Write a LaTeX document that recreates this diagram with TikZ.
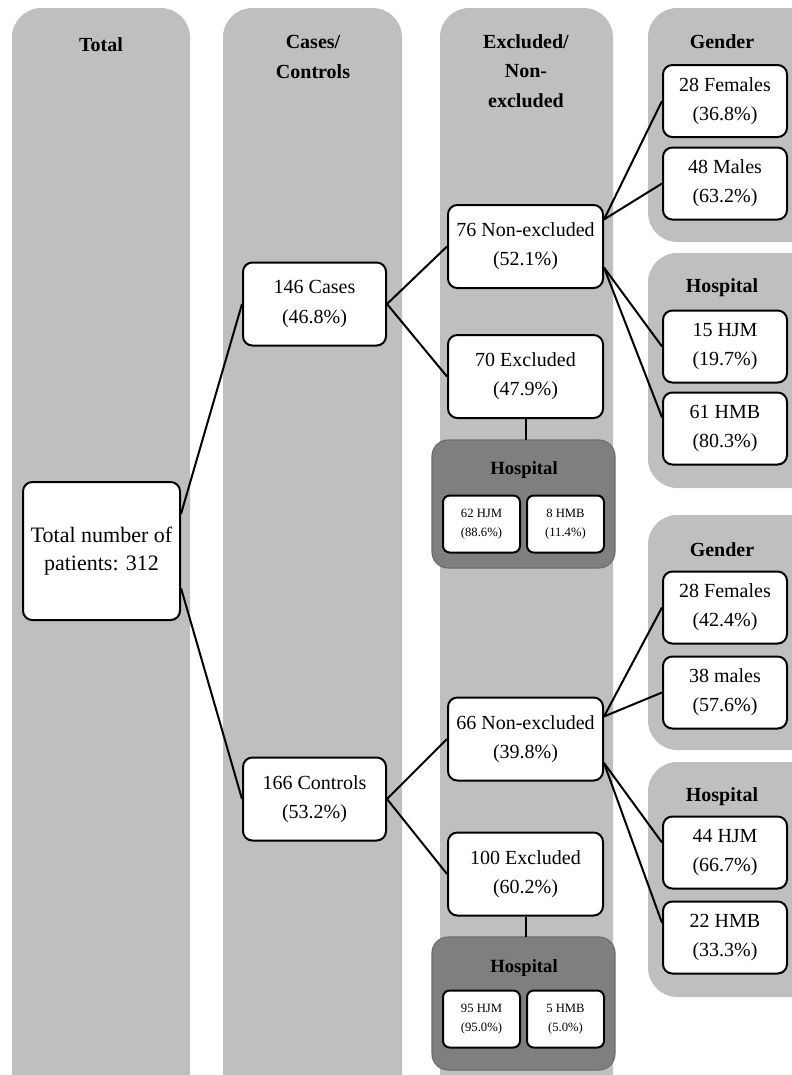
\documentclass[tikz,border=0pt]{standalone}
\usepackage{fontspec}
\setmainfont{Liberation Serif}
\usetikzlibrary{positioning}
\definecolor{colgrey}{HTML}{BFBFBF}
\definecolor{darkgrey}{HTML}{7F7F7F}
\tikzset{
    flowchart/.style={x=0.75pt, y=-0.75pt, line width=1.5pt, font=\fontsize{15}{22}\selectfont},
    column/.style={fill=colgrey, rounded corners=22pt},
    hosppanel/.style={fill=darkgrey, draw=darkgrey!85!black, line width=0.8pt, rounded corners=12pt},
    heading/.style={font=\bfseries\fontsize{15}{22}\selectfont, align=center},
    subheading/.style={font=\bfseries\fontsize{14}{16}\selectfont},
    box/.style={draw, fill=white, rounded corners=7pt, align=center, inner sep=2pt},
    bigbox/.style={box, minimum width=117.75pt, minimum height=103.5pt, font=\fontsize{16.5}{21}\selectfont},
    midbox/.style={box, minimum width=107.25pt, minimum height=62.25pt},
    exbox/.style={box, minimum width=116.25pt, minimum height=62.25pt},
    sidebox/.style={box, minimum width=93pt, minimum height=54pt},
    % tiny boxes inside the dark hospital panels
    tinybox/.style={box, rounded corners=5pt, minimum width=57.75pt, minimum height=42.75pt,
        font=\fontsize{9.5}{14.5}\selectfont},
}
\begin{document}
\begin{tikzpicture}[flowchart]
    \useasboundingbox (0,0) rectangle (792,1075);
    \clip (0,0) rectangle (792,1075);

    % grey columns
    \fill[column] (12,8)  rectangle (190,1110);
    \fill[column] (223,8) rectangle (402,1110);
    \fill[column] (440,8) rectangle (613,1110);
    \fill[column] (648,8)   rectangle (830,242);
    \fill[column] (648,253) rectangle (830,488);
    \fill[column] (648,515) rectangle (830,750);
    \fill[column] (648,762) rectangle (830,997);

    \node[heading] (hTotal) at (101,45)  {Total};
    \node[heading] (hCase)  at (313,57)  {Cases/\\Controls};
    \node[heading] (hExcl)  at (526,71)  {Excluded/\\Non-\\excluded};
    \node[heading] (hGen1)  at (722,42)  {Gender};
    \node[heading] (hHos1)  at (722,288) {Hospital};
    \node[heading] (hGen2)  at (722,550) {Gender};
    \node[heading] (hHos2)  at (722,797) {Hospital};

    % dark hospital panels under the excluded boxes
    \draw[hosppanel] (432,440) rectangle (615,568);
    \draw[hosppanel] (432,937) rectangle (615,1070);
    \node[subheading] (hp1) at (524,470) {Hospital};
    \node[subheading] (hp2) at (524,968) {Hospital};

    \node[bigbox] (tot)  at (101.5,551) {Total number of\\patients: 312};
    \node[midbox] (cases) at (314.5,304) {146 Cases\\(46.8\%)};
    \node[midbox] (ctrl)  at (314.5,799) {166 Controls\\(53.2\%)};

    \node[exbox] (nex1) at (525.5,246.5) {76 Non-excluded\\(52.1\%)};
    \node[exbox] (ex1)  at (525.5,376.5) {70 Excluded\\(47.9\%)};
    \node[exbox] (nex2) at (525.5,739)   {66 Non-excluded\\(39.8\%)};
    \node[exbox] (ex2)  at (525.5,874)   {100 Excluded\\(60.2\%)};

    \node[tinybox] (hja) at (481.5,524)  {62 HJM\\(88.6\%)};
    \node[tinybox] (hma) at (565.5,524)  {8 HMB\\(11.4\%)};
    \node[tinybox] (hjb) at (481.5,1019) {95 HJM\\(95.0\%)};
    \node[tinybox] (hmb) at (565.5,1019) {5 HMB\\(5.0\%)};

    \node[sidebox] (f1)  at (725,101)   {28 Females\\(36.8\%)};
    \node[sidebox] (m1)  at (725,183.5) {48 Males\\(63.2\%)};
    \node[sidebox] (hj1) at (725,346.5) {15 HJM\\(19.7\%)};
    \node[sidebox] (hm1) at (725,428.5) {61 HMB\\(80.3\%)};
    \node[sidebox] (f2)  at (725,607.5) {28 Females\\(42.4\%)};
    \node[sidebox] (m2)  at (725,692.5) {38 males\\(57.6\%)};
    \node[sidebox] (hj2) at (725,852.5) {44 HJM\\(66.7\%)};
    \node[sidebox] (hm2) at (725,937.5) {22 HMB\\(33.3\%)};

    \draw (tot.25)  -- (cases.west);
    \draw (tot.-25) -- (ctrl.west);
    \draw (cases.east) -- (nex1.west);
    \draw (cases.east) -- (ex1.west);
    \draw (ctrl.east)  -- (nex2.west);
    \draw (ctrl.east)  -- (ex2.west);

    \draw (ex1.south) -- (ex1.south |- 0,440);
    \draw (ex2.south) -- (ex2.south |- 0,937);

    \draw (nex1.19)  -- (f1.west);
    \draw (nex1.19)  -- (m1.west);
    \draw (nex1.-15) -- (hj1.west);
    \draw (nex1.-15) -- (hm1.170);
    \draw (nex2.16)  -- (f2.west);
    \draw (nex2.16)  -- (m2.west);
    \draw (nex2.-17) -- (hj2.171);
    \draw (nex2.-17) -- (hm2.167);
\end{tikzpicture}
\end{document}
